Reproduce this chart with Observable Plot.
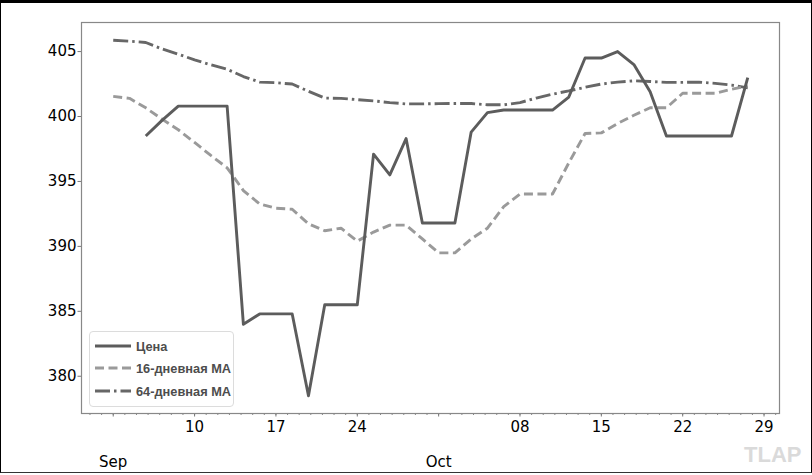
<!DOCTYPE html>
<html>
<head>
<meta charset="utf-8">
<script src="https://cdn.jsdelivr.net/npm/d3@7"></script>
<script src="https://cdn.jsdelivr.net/npm/@observablehq/plot@0.6"></script>
<style>
  html, body { margin: 0; padding: 0; background: #fff; }
  #wrap { position: relative; width: 812px; height: 475px; overflow: hidden; }
  #border { position: absolute; left: 0; top: 0; width: 812px; height: 473px; box-sizing: border-box;
            border-top: 3px solid #000; border-left: 1.5px solid #000; border-right: 1.5px solid #000;
            border-bottom: 1.5px solid #333; pointer-events: none; }
  #legend { position: absolute; left: 89px; top: 331px; width: 145px; height: 76px; box-sizing: border-box;
            border: 1px solid #dcdcdc; border-radius: 4px; background: rgba(255,255,255,0.85);
            font-family: "Liberation Sans", Arial, sans-serif; font-weight: bold; font-size: 12.8px; color: #4d4d4d; }
  .row { position: absolute; left: 5px; height: 16px; display: flex; align-items: center; }
  .row svg { margin-right: 5px; }
  #wm { position: absolute; left: 744px; top: 442px; font-family: "Liberation Sans", Arial, sans-serif;
        font-weight: bold; font-size: 22px; color: #dadada; }
</style>
</head>
<body>
<div id="wrap">
  <div id="chart"></div>
  <div id="legend"></div>
  <div id="wm">TLAP</div>
  <div id="border"></div>
</div>
<script>
// ---- data ----
const dates = [
  "2018-09-03T00:00Z","2018-09-04T09:36Z","2018-09-05T19:12Z","2018-09-07T04:48Z","2018-09-08T14:24Z",
  "2018-09-10T00:00Z","2018-09-11T09:36Z","2018-09-12T19:12Z","2018-09-14T04:48Z","2018-09-15T14:24Z",
  "2018-09-17T00:00Z","2018-09-18T09:36Z","2018-09-19T19:12Z","2018-09-21T04:48Z","2018-09-22T14:24Z",
  "2018-09-24T00:00Z","2018-09-25T09:36Z","2018-09-26T19:12Z","2018-09-28T04:48Z","2018-09-29T14:24Z",
  "2018-10-01T00:00Z","2018-10-02T09:36Z","2018-10-03T19:12Z","2018-10-05T04:48Z","2018-10-06T14:24Z",
  "2018-10-08T00:00Z","2018-10-09T09:36Z","2018-10-10T19:12Z","2018-10-12T04:48Z","2018-10-13T14:24Z",
  "2018-10-15T00:00Z","2018-10-16T09:36Z","2018-10-17T19:12Z","2018-10-19T04:48Z","2018-10-20T14:24Z",
  "2018-10-22T00:00Z","2018-10-23T09:36Z","2018-10-24T19:12Z","2018-10-26T04:48Z","2018-10-27T14:24Z"
];
const price = [
  null, null, 398.5, 399.7, 400.8, 400.8, 400.8, 400.8, 384.0, 384.8,
  384.8, 384.8, 378.5, 385.5, 385.5, 385.5, 397.1, 395.5, 398.3, 391.8,
  391.8, 391.8, 398.8, 400.3, 400.5, 400.5, 400.5, 400.5, 401.5, 404.5,
  404.5, 405.0, 404.0, 401.9, 398.5, 398.5, 398.5, 398.5, 398.5, 403.0
];
const ma16 = [
  401.55, 401.4, 400.67, 399.8, 398.98, 398.0, 397.0, 396.05, 394.3, 393.27,
  392.94, 392.86, 391.74, 391.2, 391.4, 390.4, 391.1, 391.64, 391.64, 390.57,
  389.5, 389.5, 390.57, 391.4, 393.06, 394.03, 394.03, 394.03, 396.43, 398.69,
  398.74, 399.46, 400.1, 400.67, 400.67, 401.79, 401.79, 401.79, 402.1, 402.35
];
const ma64 = [
  405.87, 405.8, 405.7, 405.2, 404.8, 404.36, 403.98, 403.64, 403.08, 402.65,
  402.6, 402.5, 401.94, 401.42, 401.4, 401.3, 401.2, 401.07, 400.97, 400.97,
  400.99, 401.0, 401.0, 400.9, 400.9, 401.07, 401.42, 401.72, 401.97, 402.25,
  402.5, 402.65, 402.75, 402.7, 402.63, 402.63, 402.65, 402.55, 402.42, 402.2
];
const seriesNames = ["Цена", "16-дневная MA", "64-дневная MA"];
const yTicks = [380, 385, 390, 395, 400, 405];
const xTickDates = ["2018-09-03","2018-09-10","2018-09-17","2018-09-24","2018-10-01","2018-10-08","2018-10-15","2018-10-22","2018-10-29"];
const xTickLabels = ["", "10", "17", "24", "", "08", "15", "22", "29"];
const monthDates = ["2018-09-03","2018-10-01"];
const monthLabels = ["Sep", "Oct"];

// ---- styles ----
const styles = [
  {color: "#5c5c5c", dash: null},
  {color: "#9a9a9a", dash: "9,4.5"},
  {color: "#676767", dash: "15,4,2.5,4"}
];
const LW = 2.9;

// ---- build ----
const X = dates.map(d => new Date(d));
const rows = [];
[price, ma16, ma64].forEach((arr, s) => arr.forEach((v, i) => rows.push({date: X[i], value: v, s})));

const tmin = d3.min(X), tmax = d3.max(X);
const tpad = (tmax - tmin) * 0.05;
const xDomain = [new Date(+tmin - tpad), new Date(+tmax + tpad)];
const allV = [...price, ...ma16, ...ma64].filter(v => v != null);
const vmin = d3.min(allV), vmax = d3.max(allV), vpad = (vmax - vmin) * 0.05;
const yDomain = [vmin - vpad, vmax + vpad];

const tickD = xTickDates.map(d => new Date(d + "T00:00Z"));
const tickLab = new Map(tickD.map((d, i) => [+d, xTickLabels[i]]));
const monD = monthDates.map(d => new Date(d + "T00:00Z"));
const monLab = new Map(monD.map((d, i) => [+d, monthLabels[i]]));
const dayTicks = d3.utcDay.range(d3.utcDay.ceil(xDomain[0]), xDomain[1]);

const lineMarks = [2, 1, 0].map(s => Plot.line(rows.filter(r => r.s === s), {
  x: "date", y: "value", stroke: styles[s].color, strokeWidth: LW,
  strokeDasharray: styles[s].dash, strokeLinejoin: "round", strokeLinecap: "butt", curve: "linear"
}));

const chart = Plot.plot({
  width: 812, height: 475,
  marginLeft: 81, marginRight: 33, marginTop: 22, marginBottom: 62,
  style: {fontFamily: "DejaVu Sans, sans-serif", fontSize: "15px", color: "#000", background: "transparent"},
  x: {type: "utc", domain: xDomain},
  y: {domain: yDomain},
  marks: [
    Plot.axisY({ticks: yTicks, tickSize: 3.5, tickPadding: 1.5, label: null, stroke: "#777", fontSize: 15, tickFormat: d => String(d)}),
    Plot.axisX({ticks: dayTicks, tickSize: 2, tickFormat: () => "", label: null, stroke: "#888"}),
    Plot.axisX({ticks: tickD, tickSize: 3.5, tickPadding: 4, tickFormat: d => tickLab.get(+d), label: null, stroke: "#777", fontSize: 15}),
    Plot.axisX({ticks: monD, tickSize: 0, tickPadding: 43, tickFormat: d => monLab.get(+d), label: null, fontSize: 15}),
    ...lineMarks,
    Plot.frame({stroke: "#888", strokeWidth: 1.2})
  ]
});
document.getElementById("chart").appendChild(chart);

// ---- legend overlay ----
const leg = document.getElementById("legend");
const rowTops = [6, 28, 51];
seriesNames.forEach((name, s) => {
  const r = document.createElement("div");
  r.className = "row";
  r.style.top = rowTops[s] + "px";
  const st = styles[s];
  r.innerHTML = `<svg width="36" height="16"><line x1="0" x2="36" y1="8" y2="8" stroke="${st.color}" stroke-width="${LW}" ${st.dash ? `stroke-dasharray="${st.dash}"` : ""}/></svg><span>${name}</span>`;
  leg.appendChild(r);
});
</script>
</body>
</html>
